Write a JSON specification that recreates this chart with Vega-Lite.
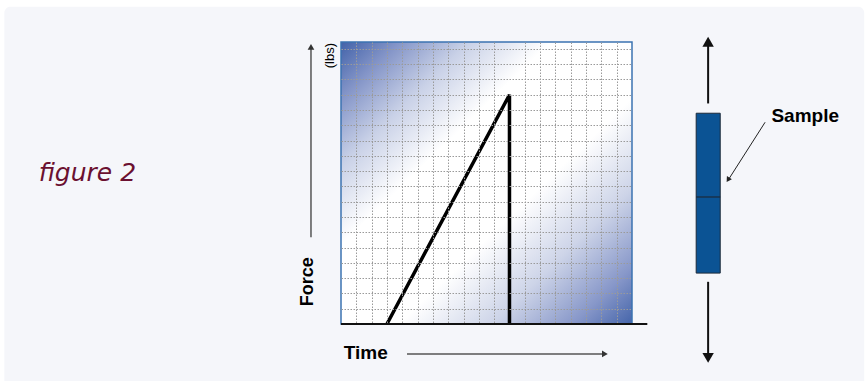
{
  "$schema": "https://vega.github.io/schema/vega-lite/v6.json",
  "autosize": "none",
  "width": 291,
  "height": 282,
  "padding": {"left": 341, "top": 42, "right": 235, "bottom": 57},
  "background": "white",
  "config": {"view": {"stroke": null}},
  "datasets": {
    "panel": [{"x": -21.98, "x2": 34.16, "y": 20.76, "y2": -5}],
    "plot": [{"x": 0, "x2": 19, "y": 0, "y2": 18.45}],
    "curve": [{"x": 3, "y": 0, "o": 1}, {"x": 11, "y": 15, "o": 2}, {"x": 11, "y": 0, "o": 3}],
    "baseline": [{"x": 0, "x2": 20, "y": 0}],
    "axisArrows": [{"x": -1.96, "y": 5.68, "x2": -1.96, "y2": 18.0}, {"x": 4.31, "y": -1.96, "x2": 17.2, "y2": -1.96}],
    "pullArrows": [{"x": 23.97, "y": 14.43, "x2": 23.97, "y2": 18.3}, {"x": 23.97, "y": 2.76, "x2": 23.97, "y2": -2.3}],
    "pointer": [{"x": 27.69, "y": 13.2, "x2": 25.3, "y2": 9.45}],
    "headSmallUp": [{"x": -1.96, "y": 18.13}],
    "headSmallRight": [{"x": 17.23, "y": -1.96}],
    "headBigUp": [{"x": 23.97, "y": 18.47}],
    "headBigDown": [{"x": 23.97, "y": -2.22}],
    "headPointer": [{"x": 25.27, "y": 9.43}],
    "sample": [{"x": 23.19, "x2": 24.76, "y": 3.33, "y2": 13.79}],
    "divider": [{"x": 23.19, "x2": 24.76, "y": 8.31}],
    "figLabel": [{"x": -16.56, "y": 9.86, "label": "figure 2"}],
    "forceLabel": [{"x": -2.17, "y": 2.76, "label": "Force"}],
    "lbsLabel": [{"x": -0.7, "y": 17.56, "label": "(lbs)"}],
    "timeLabel": [{"x": 1.62, "y": -1.89, "label": "Time"}],
    "sampleLabel": [{"x": 30.31, "y": 13.58, "label": "Sample"}]
  },
  "encoding": {
    "x": {"field": "x", "type": "quantitative", "scale": {"domain": [0, 19], "nice": false, "zero": false}, "axis": {"values": [1,2,3,4,5,6,7,8,9,10,12,13,14,15,16,17,18], "grid": true, "gridDash": [1.5, 1.5], "gridColor": "#9a9a9a", "gridWidth": 1, "labels": false, "ticks": false, "domain": false, "title": null, "zindex": 1}},
    "y": {"field": "y", "type": "quantitative", "scale": {"domain": [0, 18.45], "nice": false, "zero": false}, "axis": {"values": [1,2,3,4,5,6,7,8,9,10,11,12,13,14,15,16,17,18], "grid": true, "gridDash": [1.5, 1.5], "gridColor": "#9a9a9a", "gridWidth": 1, "labels": false, "ticks": false, "domain": false, "title": null, "zindex": 1}}
  },
  "layer": [
    {
      "data": {"name": "panel"},
      "mark": {"type": "rect", "fill": "#f5f6fa", "cornerRadius": 6, "clip": false},
      "encoding": {"x2": {"field": "x2"}, "y2": {"field": "y2"}}
    },
    {
      "data": {"name": "plot"},
      "mark": {
        "type": "rect",
        "clip": false,
        "stroke": "#3b73b1",
        "strokeWidth": 1.5,
        "fill": {
          "gradient": "linear",
          "x1": 0, "y1": 0, "x2": 1, "y2": 1,
          "stops": [
            {"offset": 0, "color": "#4262a9"},
            {"offset": 0.1, "color": "#8495c8"},
            {"offset": 0.22, "color": "#c9d1e7"},
            {"offset": 0.36, "color": "#ffffff"},
            {"offset": 0.6, "color": "#ffffff"},
            {"offset": 0.76, "color": "#cdd4e8"},
            {"offset": 0.9, "color": "#8797c9"},
            {"offset": 1, "color": "#4565aa"}
          ]
        }
      },
      "encoding": {"x2": {"field": "x2"}, "y2": {"field": "y2"}}
    },
    {
      "data": {"name": "curve"},
      "mark": {"type": "line", "color": "black", "strokeWidth": 3.5, "clip": false, "strokeJoin": "miter"},
      "encoding": {"order": {"field": "o"}}
    },
    {
      "data": {"name": "baseline"},
      "mark": {"type": "rule", "color": "#111111", "strokeWidth": 2, "clip": false},
      "encoding": {"x2": {"field": "x2"}}
    },
    {
      "data": {"name": "axisArrows"},
      "mark": {"type": "rule", "color": "#555555", "strokeWidth": 1.5, "clip": false},
      "encoding": {"x2": {"field": "x2"}, "y2": {"field": "y2"}}
    },
    {
      "data": {"name": "pullArrows"},
      "mark": {"type": "rule", "color": "#111111", "strokeWidth": 2, "clip": false},
      "encoding": {"x2": {"field": "x2"}, "y2": {"field": "y2"}}
    },
    {
      "data": {"name": "pointer"},
      "mark": {"type": "rule", "color": "#222222", "strokeWidth": 1, "clip": false},
      "encoding": {"x2": {"field": "x2"}, "y2": {"field": "y2"}}
    },
    {
      "data": {"name": "headSmallUp"},
      "mark": {"type": "point", "shape": "triangle-up", "filled": true, "color": "#333333", "opacity": 1, "size": 45, "clip": false}
    },
    {
      "data": {"name": "headSmallRight"},
      "mark": {"type": "point", "shape": "triangle-right", "filled": true, "color": "#333333", "opacity": 1, "size": 45, "clip": false}
    },
    {
      "data": {"name": "headBigUp"},
      "mark": {"type": "point", "shape": "triangle-up", "filled": true, "color": "#111111", "opacity": 1, "size": 130, "clip": false}
    },
    {
      "data": {"name": "headBigDown"},
      "mark": {"type": "point", "shape": "triangle-down", "filled": true, "color": "#111111", "opacity": 1, "size": 130, "clip": false}
    },
    {
      "data": {"name": "headPointer"},
      "mark": {"type": "point", "shape": "triangle-up", "filled": true, "color": "#222222", "opacity": 1, "size": 35, "angle": 212.5, "clip": false}
    },
    {
      "data": {"name": "sample"},
      "mark": {"type": "rect", "fill": "#0b5394", "stroke": "#1c2a3a", "strokeWidth": 1, "clip": false},
      "encoding": {"x2": {"field": "x2"}, "y2": {"field": "y2"}}
    },
    {
      "data": {"name": "divider"},
      "mark": {"type": "rule", "color": "#1c2a3a", "strokeWidth": 1.2, "clip": false},
      "encoding": {"x2": {"field": "x2"}}
    },
    {
      "data": {"name": "figLabel"},
      "mark": {"type": "text", "font": "DejaVu Sans", "fontStyle": "italic", "fontSize": 25, "color": "#6b1030", "align": "center", "baseline": "middle", "clip": false},
      "encoding": {"text": {"field": "label"}}
    },
    {
      "data": {"name": "forceLabel"},
      "mark": {"type": "text", "font": "Liberation Sans", "fontWeight": "bold", "fontSize": 18, "color": "#000000", "angle": 270, "align": "center", "baseline": "middle", "clip": false},
      "encoding": {"text": {"field": "label"}}
    },
    {
      "data": {"name": "lbsLabel"},
      "mark": {"type": "text", "font": "Liberation Sans", "fontSize": 13, "color": "#000000", "angle": 270, "align": "center", "baseline": "middle", "clip": false},
      "encoding": {"text": {"field": "label"}}
    },
    {
      "data": {"name": "timeLabel"},
      "mark": {"type": "text", "font": "Liberation Sans", "fontWeight": "bold", "fontSize": 19, "color": "#000000", "align": "center", "baseline": "middle", "clip": false},
      "encoding": {"text": {"field": "label"}}
    },
    {
      "data": {"name": "sampleLabel"},
      "mark": {"type": "text", "font": "Liberation Sans", "fontWeight": "bold", "fontSize": 19, "color": "#000000", "align": "center", "baseline": "middle", "clip": false},
      "encoding": {"text": {"field": "label"}}
    }
  ]
}
